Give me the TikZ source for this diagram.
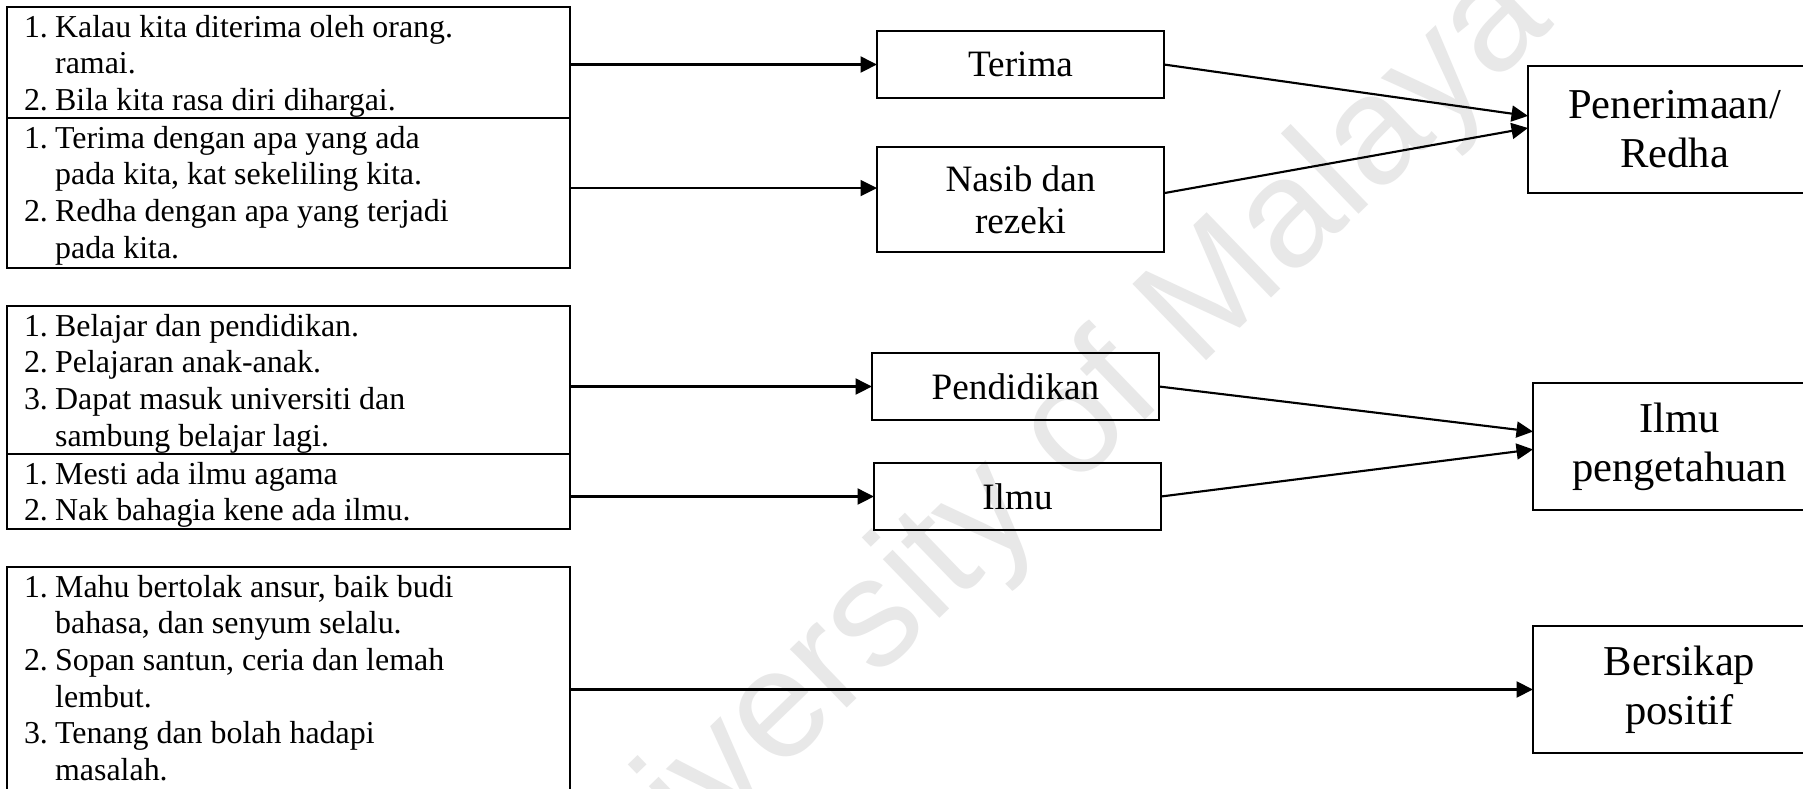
\documentclass[tikz,border=0pt]{standalone}
\usepackage{fontspec}
\setmainfont{Liberation Serif}
\newfontfamily\wmfont{Liberation Sans}
\usetikzlibrary{arrows.meta}
\newcommand{\itm}[2]{\hspace*{6.4pt}\makebox[11.7pt][l]{#1}#2}
\newcommand{\cnt}[1]{\hspace*{18.1pt}#1}
\newcommand{\cellbox}[2]{\parbox[c][#1][t]{211.7pt}{\fontsize{12}{13.8}\selectfont\rule{0pt}{11.3pt}#2}}
\begin{document}
\begin{tikzpicture}[x=0.376pt, y=-0.376pt,
  cell/.style={draw, line width=0.75pt, inner sep=0pt, outer sep=0pt, anchor=north west},
  mid/.style={draw, line width=0.55pt, inner sep=2pt, outer sep=0pt, anchor=north west,
    minimum width=107.9pt, align=center, font=\fontsize{14}{15.6}\selectfont},
  big/.style={draw, line width=0.55pt, inner sep=2pt, outer sep=0pt, anchor=north west,
    minimum width=110.2pt, minimum height=47.75pt, align=center, font=\fontsize{16}{18.4}\selectfont},
  arr/.style={line width=0.8pt, -{Triangle[length=6.2pt, width=6pt]}}]
\useasboundingbox (0,0) rectangle (1803,789);
\clip (0,0) rectangle (1803,789);
\fill[white] (0,0) rectangle (1803,789);
% watermark
\node[rotate=44, text=black!9, font=\wmfont\fontsize{58}{58}\selectfont] (wm) at (1028,478) {University of Malaya};
% left cells
\node[cell] (A1) at (7,7) {\cellbox{41.7pt}{\itm{1.}{Kalau kita diterima oleh orang.}\\\cnt{ramai.}\\\itm{2.}{Bila kita rasa diri dihargai.}}};
\node[cell] (A2) at (7,118) {\cellbox{56.4pt}{\itm{1.}{Terima dengan apa yang ada}\\\cnt{pada kita, kat sekeliling kita.}\\\itm{2.}{Redha dengan apa yang terjadi}\\\cnt{pada kita.}}};
\node[cell] (B1) at (7,306) {\cellbox{55.6pt}{\itm{1.}{Belajar dan pendidikan.}\\\itm{2.}{Pelajaran anak-anak.}\\\itm{3.}{Dapat masuk universiti dan}\\\cnt{sambung belajar lagi.}}};
\node[cell] (B2) at (7,454) {\cellbox{28.2pt}{\itm{1.}{Mesti ada ilmu agama}\\\itm{2.}{Nak bahagia kene ada ilmu.}}};
\node[cell] (C) at (7,567) {\cellbox{91pt}{\itm{1.}{Mahu bertolak ansur, baik budi}\\\cnt{bahasa, dan senyum selalu.}\\\itm{2.}{Sopan santun, ceria dan lemah}\\\cnt{lembut.}\\\itm{3.}{Tenang dan bolah hadapi}\\\cnt{masalah.}}};
% middle boxes
\node[mid, minimum height=25.2pt] (terima) at (877,31) {Terima};
\node[mid, minimum height=39.5pt] (nasib) at (877,147) {Nasib dan\\rezeki};
\node[mid, minimum height=25.2pt] (pend) at (872,353) {Pendidikan};
\node[mid, minimum height=25.2pt] (ilmu) at (874,463) {Ilmu};
% right boxes
\node[big] (pen) at (1528,66) {Penerimaan/\\Redha};
\node[big] (ilmup) at (1533,383) {Ilmu\\pengetahuan};
\node[big] (bers) at (1533,626) {Bersikap\\positif};
% arrows left -> middle
\coordinate (nIn) at ([yshift=4.3pt]nasib.west);
\draw[arr] (A1.east |- terima.west) -- (terima.west);
\draw[arr] (A2.east |- nIn) -- (nIn);
\draw[arr] (B1.east |- pend.west) -- (pend.west);
\draw[arr] (B2.east |- ilmu.west) -- (ilmu.west);
\draw[arr] (C.east |- bers.west) -- (bers.west);
% arrows middle -> right
\draw[arr] (terima.east) -- ([yshift=5.1pt]pen.west);
\draw[arr] ([yshift=2.4pt]nasib.east) -- ([yshift=0.56pt]pen.west);
\draw[arr] (pend.east) -- ([yshift=5.6pt]ilmup.west);
\draw[arr] (ilmu.east) -- ([yshift=-1.1pt]ilmup.west);
\end{tikzpicture}
\end{document}
